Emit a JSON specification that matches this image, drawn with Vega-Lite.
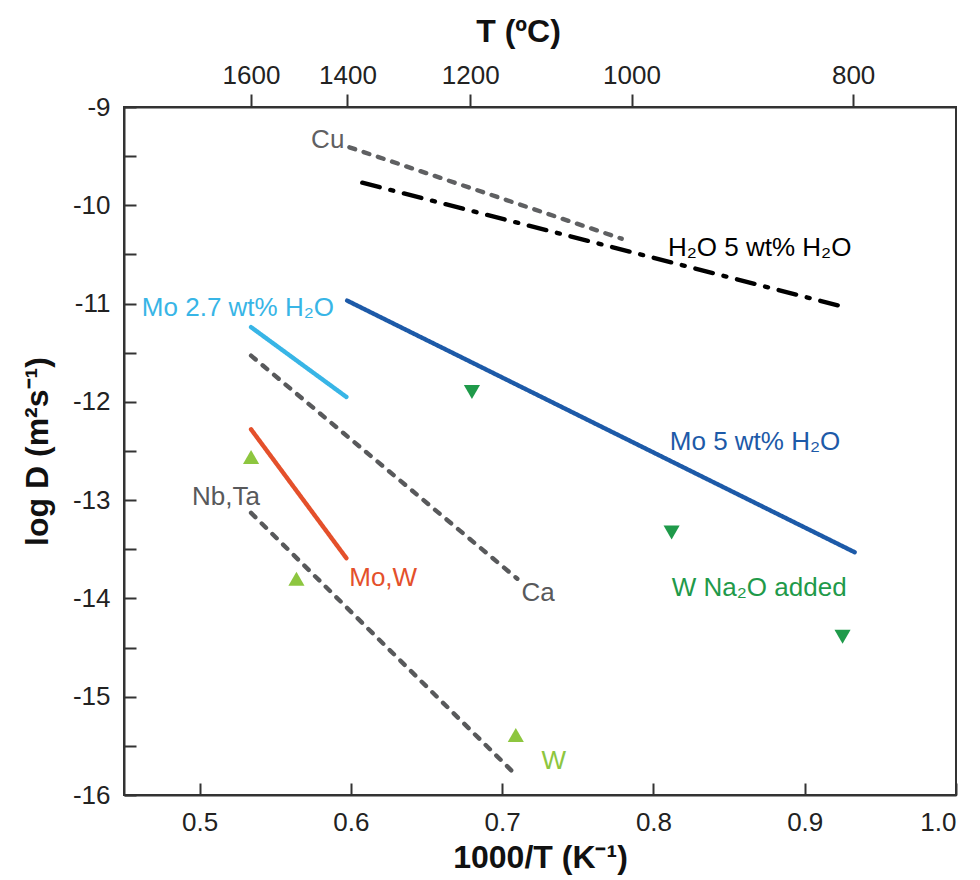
{
  "$schema": "https://vega.github.io/schema/vega-lite/v6.json",
  "autosize": {"type": "none"},
  "width": 832,
  "height": 688,
  "padding": {"left": 124, "top": 107, "right": 24, "bottom": 85},
  "background": "white",
  "config": {
    "font": "Liberation Sans",
    "view": {"stroke": "#333333", "strokeWidth": 2},
    "axis": {"grid": false, "domainColor": "#333333", "domainWidth": 2, "tickColor": "#333333", "tickWidth": 2, "labelColor": "#222222", "titleColor": "#111111", "labelFont": "Liberation Sans", "titleFont": "Liberation Sans"}
  },
  "datasets": {
    "lines": [
      {"series": "Cu", "x": 0.599, "y": -9.41},
      {"series": "Cu", "x": 0.779, "y": -10.34},
      {"series": "H2O", "x": 0.6075, "y": -9.77},
      {"series": "H2O", "x": 0.925, "y": -11.03},
      {"series": "Mo5", "x": 0.5975, "y": -10.97},
      {"series": "Mo5", "x": 0.933, "y": -13.53},
      {"series": "Mo27", "x": 0.534, "y": -11.24},
      {"series": "Mo27", "x": 0.597, "y": -11.95},
      {"series": "Ca", "x": 0.534, "y": -11.53},
      {"series": "Ca", "x": 0.710, "y": -13.80},
      {"series": "MoW", "x": 0.534, "y": -12.28},
      {"series": "MoW", "x": 0.597, "y": -13.59},
      {"series": "NbTa", "x": 0.534, "y": -13.13},
      {"series": "NbTa", "x": 0.710, "y": -15.81}
    ],
    "points": [
      {"series": "W", "x": 0.534, "y": -12.56},
      {"series": "W", "x": 0.564, "y": -13.80},
      {"series": "W", "x": 0.709, "y": -15.39},
      {"series": "WNa", "x": 0.680, "y": -11.90},
      {"series": "WNa", "x": 0.812, "y": -13.33},
      {"series": "WNa", "x": 0.925, "y": -14.39}
    ],
    "labels": [
      {"series": "Cu", "text": "Cu", "x": 0.5737, "y": -9.34},
      {"series": "H2O", "text": "H₂O 5 wt% H₂O", "x": 0.8096, "y": -10.43},
      {"series": "Mo27", "text": "Mo 2.7 wt% H₂O", "x": 0.4618, "y": -11.05},
      {"series": "Mo5", "text": "Mo 5 wt% H₂O", "x": 0.8108, "y": -12.41},
      {"series": "NbTa", "text": "Nb,Ta", "x": 0.4949, "y": -12.97},
      {"series": "MoW", "text": "Mo,W", "x": 0.5989, "y": -13.79},
      {"series": "Ca", "text": "Ca", "x": 0.7128, "y": -13.94},
      {"series": "WNa", "text": "W Na₂O added", "x": 0.8121, "y": -13.89},
      {"series": "W", "text": "W", "x": 0.7260, "y": -15.65}
    ],
    "temps": [
      {"x": 0.5339, "t": 1600},
      {"x": 0.5977, "t": 1400},
      {"x": 0.6789, "t": 1200},
      {"x": 0.7855, "t": 1000},
      {"x": 0.9320, "t": 800}
    ]
  },
  "layer": [
    {
      "layer": [
        {
          "data": {"name": "lines"},
          "mark": {"type": "line", "strokeWidth": 4.4, "strokeCap": "round"},
          "encoding": {
            "x": {"field": "x", "type": "quantitative", "scale": {"domain": [0.45, 1.0], "nice": false, "zero": false},
              "axis": {"values": [0.5, 0.6, 0.7, 0.8, 0.9, 1.0], "format": ".1f", "labelFontSize": 26, "tickSize": -12, "labelPadding": 26, "title": "1000/T (K⁻¹)", "titleFontSize": 32, "titleFontWeight": "bold", "titlePadding": 7}},
            "y": {"field": "y", "type": "quantitative", "scale": {"domain": [-16, -9], "nice": false, "zero": false},
              "axis": {"values": [-16, -15.5, -15, -14.5, -14, -13.5, -13, -12.5, -12, -11.5, -11, -10.5, -10, -9.5, -9], "labelExpr": "datum.value % 1 == 0 ? '' + datum.value : ''", "labelFontSize": 26, "tickSize": -12, "labelPadding": 26, "title": "log D (m²s⁻¹)", "titleFontSize": 32, "titleFontWeight": "bold", "titlePadding": 18}},
            "color": {"field": "series", "type": "nominal", "legend": null,
              "scale": {"domain": ["Cu", "H2O", "Mo5", "Mo27", "Ca", "MoW", "NbTa", "W", "WNa"],
                "range": ["#5f6062", "#000000", "#1d5aa8", "#38b5e6", "#58595b", "#e4502b", "#58595b", "#8dc63f", "#1f9a4a"]}},
            "strokeDash": {"field": "series", "type": "nominal", "legend": null,
              "scale": {"domain": ["Cu", "H2O", "Mo5", "Mo27", "Ca", "MoW", "NbTa"],
                "range": [[6, 9], [18, 11, 3, 11], [1, 0], [1, 0], [6, 9], [1, 0], [6, 9]]}},
            "detail": {"field": "series"}
          }
        },
        {
          "data": {"name": "points"},
          "mark": {"type": "point", "filled": true, "opacity": 1, "size": 260},
          "encoding": {
            "x": {"field": "x", "type": "quantitative"},
            "y": {"field": "y", "type": "quantitative"},
            "color": {"field": "series", "type": "nominal", "legend": null},
            "shape": {"field": "series", "type": "nominal", "legend": null,
              "scale": {"domain": ["W", "WNa"], "range": ["triangle-up", "triangle-down"]}}
          }
        },
        {
          "data": {"name": "labels"},
          "mark": {"type": "text", "fontSize": 26, "baseline": "middle", "align": "left", "font": "Liberation Sans"},
          "encoding": {
            "x": {"field": "x", "type": "quantitative"},
            "y": {"field": "y", "type": "quantitative"},
            "text": {"field": "text"},
            "color": {"field": "series", "type": "nominal", "legend": null}
          }
        }
      ]
    },
    {
      "data": {"name": "temps"},
      "mark": {"type": "tick", "opacity": 0},
      "encoding": {
        "x": {"field": "x", "type": "quantitative", "scale": {"domain": [0.45, 1.0], "nice": false, "zero": false},
          "axis": {"orient": "top", "values": [0.5339, 0.5977, 0.6789, 0.7855, 0.932],
            "labelExpr": "datum.value < 0.56 ? '1600' : datum.value < 0.63 ? '1400' : datum.value < 0.72 ? '1200' : datum.value < 0.85 ? '1000' : '800'",
            "labelFontSize": 26, "tickSize": 13, "labelPadding": 6, "title": "T (ºC)", "titleFontSize": 32, "titleFontWeight": "bold", "titlePadding": 14, "titleX": 394}}
      }
    }
  ],
  "resolve": {"scale": {"x": "independent"}}
}
